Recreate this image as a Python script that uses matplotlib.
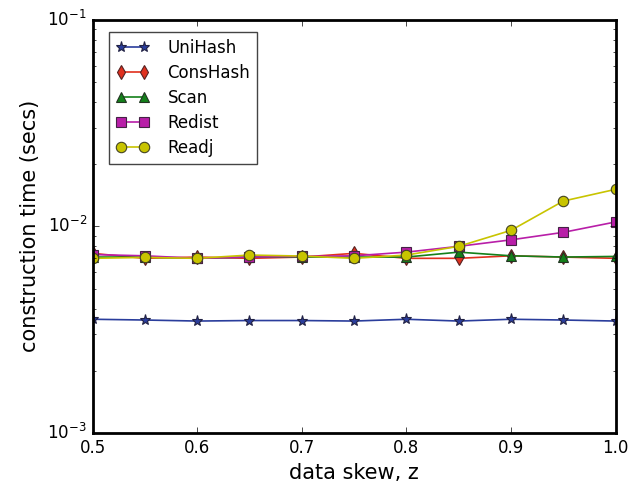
import matplotlib
matplotlib.use('Agg')
import matplotlib.pyplot as plt

plt.style.use('classic')

# skew values on the x axis
skew = [0.5, 0.55, 0.6, 0.65, 0.7, 0.75, 0.8, 0.85, 0.9, 0.95, 1.0]

# construction times (secs) per scheme
unihash  = [0.00355, 0.00352, 0.00348, 0.00350, 0.00350, 0.00348, 0.00355, 0.00348, 0.00355, 0.00352, 0.00348]
conshash = [0.0074, 0.0070, 0.0071, 0.0070, 0.0071, 0.0074, 0.0070, 0.0070, 0.0072, 0.0071, 0.0070]
scan     = [0.0071, 0.0071, 0.0070, 0.0071, 0.0071, 0.0071, 0.0071, 0.0075, 0.0072, 0.0071, 0.00715]
redist   = [0.0073, 0.0072, 0.0070, 0.0071, 0.00715, 0.0072, 0.0075, 0.0080, 0.0086, 0.00935, 0.0105]
readj    = [0.0070, 0.00707, 0.0070, 0.00726, 0.00718, 0.0070, 0.00726, 0.0080, 0.00956, 0.01325, 0.0151]

fig = plt.figure(figsize=(6.31, 4.92), dpi=100, facecolor='white')
ax = fig.add_axes([0.1466, 0.12, 0.829, 0.84])

mew = 0.8
lw = 1.2
ax.plot(skew, unihash, color='#2a3d9c', lw=lw, marker='*', markersize=8, mec='#222244', mew=mew, label='UniHash')
ax.plot(skew, conshash, color='#e0301e', lw=lw, marker='d', markersize=7.5, mec='#552222', mew=mew, label='ConsHash')
ax.plot(skew, scan, color='#14801a', lw=lw, marker='^', markersize=7.5, mec='#223322', mew=mew, label='Scan')
ax.plot(skew, redist, color='#b81ea8', lw=lw, marker='s', markersize=6.5, mec='#442244', mew=mew, label='Redist')
ax.plot(skew, readj, color='#c8c400', lw=lw, marker='o', markersize=7.5, mec='#444422', mew=mew, label='Readj')

ax.set_yscale('log')
ax.set_xlim(0.5, 1.0)
ax.set_ylim(1e-3, 1e-1)
ax.set_xticks([0.5, 0.6, 0.7, 0.8, 0.9, 1.0])
ax.tick_params(labelsize=12)
for s in ax.spines.values():
    s.set_linewidth(2)

ax.set_xlabel('data skew, z', fontsize=15)
ax.set_ylabel('construction time (secs)', fontsize=15)

leg = ax.legend(loc='upper left', bbox_to_anchor=(0.031, 0.970), borderaxespad=0,
                fontsize=12, numpoints=2, labelspacing=0.42, handletextpad=1.1,
                borderpad=0.42)
leg.get_frame().set_edgecolor('#444444')

fig.savefig('out.png', dpi=100, facecolor='white')
